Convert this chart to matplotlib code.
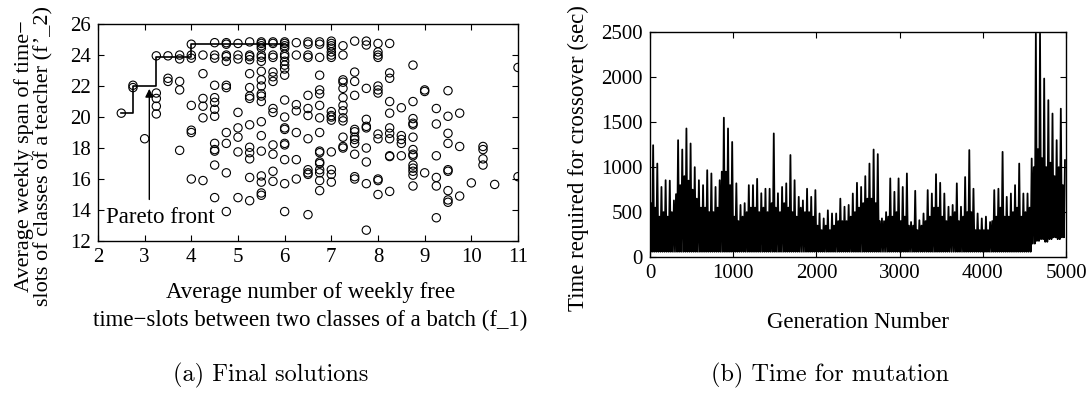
"""
Script to plot the final solutions and the crossover time per generation
"""
##
# ---------------------------------------------------------------------------------------------------------------------
# Cell to Import Libraries
# ---------------------------------------------------------------------------------------------------------------------
import numpy as np
import matplotlib
matplotlib.use('Agg')
import matplotlib.pyplot as plt

plt.rcParams['font.family'] = ['Liberation Serif', 'DejaVu Serif']
plt.rcParams['font.size'] = 16

##
# ---------------------------------------------------------------------------------------------------------------------
# Data: final solutions (f_1, f'_2), one list of y values per x column
# ---------------------------------------------------------------------------------------------------------------------
f1_columns = [2.5, 2.75, 3.0, 3.25, 3.5, 3.75, 4.0, 4.25, 4.5, 4.75, 5.0, 5.25, 5.5, 5.75, 6.0, 6.25, 6.5, 6.75,
              7.0, 7.25, 7.5, 7.75, 8.0, 8.25, 8.5, 8.75, 9.0, 9.25, 9.5, 9.75, 10.0, 10.25, 10.5, 11.0]
f2_columns = [
    [20.25],
    [22.05, 21.9],
    [18.6],
    [23.95, 21.55, 21.2, 20.7, 20.2],
    [23.95, 22.5, 22.3],
    [24.0, 23.75, 22.3, 21.75, 17.85],
    [24.7, 24.0, 23.8, 20.75, 19.15, 19.0, 16.0],
    [24.0, 22.8, 21.2, 20.7, 19.95, 15.9],
    [24.8, 24.0, 23.8, 22.05, 21.25, 20.95, 20.5, 20.05, 18.3, 17.9, 17.8, 16.9, 14.8],
    [24.8, 24.7, 24.0, 23.9, 23.6, 22.05, 21.9, 19.0, 18.3, 16.4, 13.9],
    [24.75, 24.0, 23.75, 20.3, 19.3, 18.7, 17.75, 14.8],
    [24.85, 24.0, 23.9, 23.7, 22.8, 21.9, 21.35, 21.2, 19.5, 18.05, 17.7, 17.3, 16.1, 14.6],
    [24.85, 24.75, 24.6, 24.45, 24.0, 23.85, 23.6, 22.95, 22.4, 22.0, 21.5, 21.35, 21.0, 19.7, 18.8, 17.8,
     16.2, 15.8, 15.1, 14.95],
    [24.85, 24.75, 24.0, 23.85, 22.9, 22.6, 22.3, 20.55, 20.3, 18.2, 17.6, 16.5, 15.85],
    [24.85, 24.75, 24.6, 24.45, 24.05, 23.9, 23.6, 23.35, 23.1, 22.7, 21.1, 20.0, 19.3, 19.2, 18.3, 18.2,
     17.25, 15.7, 13.9],
    [24.8, 24.0, 20.8, 20.4, 19.0, 17.25, 16.0],
    [24.85, 24.7, 24.0, 23.85, 21.4, 20.55, 20.1, 18.6, 16.6, 16.4, 16.3, 13.7],
    [24.85, 24.7, 23.85, 22.7, 21.75, 21.5, 20.75, 19.95, 19.0, 17.8, 17.7, 17.1, 17.0, 16.6, 16.4, 15.9, 15.25],
    [24.9, 24.75, 24.6, 24.45, 24.2, 24.0, 23.85, 20.35, 20.1, 20.0, 19.8, 17.75, 16.6, 16.3, 15.8],
    [24.6, 24.0, 22.4, 22.25, 21.85, 21.25, 20.75, 20.4, 19.95, 19.75, 18.7, 18.1, 18.0],
    [24.9, 22.9, 22.3, 21.4, 19.2, 19.05, 18.7, 18.55, 18.3, 17.6, 16.15, 16.0],
    [24.9, 24.65, 21.85, 19.85, 19.4, 19.3, 18.0, 17.1, 15.7, 12.7],
    [24.75, 24.2, 24.0, 23.85, 22.0, 21.75, 21.55, 18.9, 18.6, 16.0, 15.9, 15.0],
    [24.75, 22.85, 22.5, 21.0, 20.25, 19.3, 18.95, 18.6, 17.5, 17.45, 15.2],
    [20.6, 18.8, 18.55, 18.3, 17.5],
    [23.35, 21.0, 19.9, 19.6, 19.5, 18.7, 17.9, 17.6, 17.5, 16.9, 16.7, 16.5, 16.25, 15.55],
    [21.75, 21.65, 16.4],
    [20.55, 19.55, 17.5, 16.1, 15.55, 13.5],
    [21.7, 20.05, 18.95, 18.3, 16.6, 16.5, 15.25, 14.65, 14.5],
    [20.25, 18.1, 14.9],
    [15.75],
    [18.1, 17.9, 17.3, 16.9],
    [15.65],
    [23.2, 16.15],
]

# Pareto front (step line)
pareto_f1 = [2.5, 2.75, 3.25, 4.0, 6.0]
pareto_f2 = [20.25, 22.0, 23.9, 24.7, 24.7]

##
# ---------------------------------------------------------------------------------------------------------------------
# Data: time required for crossover, read per bin of 50 generations (floor, dense body, peak)
# ---------------------------------------------------------------------------------------------------------------------
bin_width = 50
time_peak = [1244, 1040, 780, 855, 850, 630, 1300, 1196, 1430, 1263,
             1000, 855, 800, 966, 930, 780, 855, 1550, 1430, 1280,
             820, 580, 600, 800, 800, 870, 710, 760, 760, 1375,
             710, 780, 820, 1135, 855, 670, 630, 760, 670, 745,
             485, 430, 520, 485, 485, 650, 560, 580, 707, 826,
             780, 900, 1040, 1196, 1145, 430, 500, 875, 726, 875,
             780, 930, 390, 737, 410, 485, 745, 707, 922, 826,
             707, 560, 580, 820, 560, 890, 1190, 760, 485, 430,
             450, 390, 745, 760, 1170, 670, 707, 800, 1040, 707,
             707, 1096, 2485, 2485, 1985, 1745, 1596, 1300, 1650, 1078]
time_body = [600, 550, 450, 500, 450, 500, 700, 800, 900, 850,
             750, 650, 550, 550, 500, 500, 550, 950, 950, 800,
             450, 400, 450, 500, 550, 550, 500, 550, 500, 600,
             550, 500, 600, 550, 500, 450, 550, 500, 500, 450,
             350, 300, 350, 300, 350, 400, 400, 400, 450, 500,
             550, 600, 650, 650, 600, 400, 400, 450, 450, 500,
             400, 450, 350, 350, 300, 350, 400, 450, 550, 550,
             450, 400, 450, 500, 400, 450, 500, 500, 300, 300,
             300, 300, 400, 450, 550, 450, 450, 500, 550, 450,
             500, 550, 1000, 1200, 1100, 1000, 1050, 900, 1000, 800]
time_floor = [60] * 92 + [150, 180, 200, 170, 200, 220, 200, 220]

##
# ---------------------------------------------------------------------------------------------------------------------
# Figure
# ---------------------------------------------------------------------------------------------------------------------
fig = plt.figure(figsize=(10.91, 3.98), dpi=100)
ax1 = fig.add_axes([0.0898, 0.3945, 0.385, 0.545])
ax2 = fig.add_axes([0.5958, 0.354, 0.3813, 0.565])

for ax in (ax1, ax2):
    ax.tick_params(direction='in', top=True, right=True, length=4, width=0.8, labelsize=15, pad=5)
    for sp in ax.spines.values():
        sp.set_linewidth(1.0)

# (a) Final solutions
for f1, col in zip(f1_columns, f2_columns):
    ax1.scatter([f1] * len(col), col, s=36, facecolors='none', edgecolors='black', linewidths=0.8, zorder=3)
ax1.plot(pareto_f1, pareto_f2, color='black', lw=1.2, drawstyle='steps-post', zorder=2)
ax1.annotate('', xy=(3.1, 22.0), xytext=(3.1, 14.5),
             arrowprops=dict(arrowstyle='-|>', color='black', lw=1.0, mutation_scale=12))
ax1.text(2.17, 13.5, 'Pareto front', fontsize=16.5, va='center', ha='left')
ax1.set_xlim(2, 11)
ax1.set_ylim(12, 26)
ax1.set_xticks(range(2, 12))
ax1.set_yticks(range(12, 27, 2))
ax1.set_xlabel('Average number of weekly free\ntime\u2212slots between two classes of a batch (f_1)',
               linespacing=1.4, fontsize=16.5, va='center')
ax1.xaxis.set_label_coords(0.505, -0.302)
ax1.set_ylabel('Average weekly span of time\u2212\nslots of classes of a teacher (f\u2019_2)',
               linespacing=1.0, fontsize=16, va='center')
ax1.yaxis.set_label_coords(-0.152, 0.39)

# (b) Time for crossover: zig-zag line floor -> body -> floor -> peak inside every bin
starts = np.arange(len(time_peak)) * bin_width
gx = np.column_stack([starts, starts + bin_width / 4, starts + bin_width / 2, starts + 3 * bin_width / 4]).ravel()
gy = np.column_stack([time_floor, time_body, time_floor, time_peak]).ravel()
ax2.plot(gx, gy, color='black', lw=1.3)
ax2.set_xlim(0, 5000)
ax2.set_ylim(0, 2500)
ax2.set_xticks(range(0, 5001, 1000))
ax2.set_yticks(range(0, 2501, 500))
ax2.set_xlabel('Generation Number', fontsize=16.5, va='center')
ax2.xaxis.set_label_coords(0.5, -0.293)
ax2.set_ylabel('Time required for crossover (sec)', fontsize=16.5, va='center')
ax2.yaxis.set_label_coords(-0.173, 0.44)

# captions
fig.text(271 / 1091, 1 - 375 / 398, '(a) Final solutions', family='cmr10', fontsize=17.5, ha='center', va='center')
fig.text(830 / 1091, 1 - 375 / 398, '(b) Time for mutation', family='cmr10', fontsize=17.5, ha='center', va='center')

fig.savefig('out.png', dpi=100)
